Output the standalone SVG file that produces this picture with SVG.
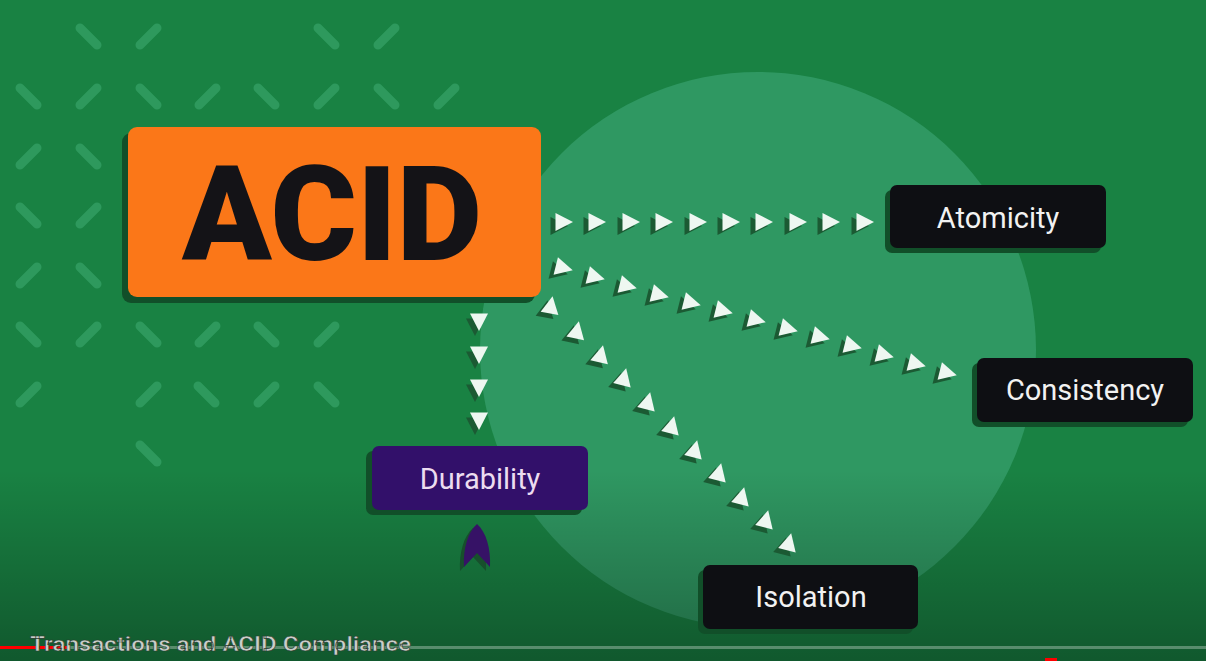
<svg xmlns="http://www.w3.org/2000/svg" xmlns:xlink="http://www.w3.org/1999/xlink" width="1206" height="661" viewBox="0 0 1206 661">
<defs>
<style>
.dash{stroke:#2e995d;stroke-width:9;stroke-linecap:round;fill:none}
.bshadow{fill:#114f29}
.dark{fill:#0e0f13}
.lbl{font-family:Roboto,"Liberation Sans",sans-serif;font-size:29px;fill:#f2f2f2;text-anchor:middle}
.tw{fill:#eef7f1}
.ts{fill:#1b5a33}
</style>
<linearGradient id="shade" x1="0" y1="0" x2="0" y2="1">
<stop offset="0" stop-color="#000" stop-opacity="0"/>
<stop offset="1" stop-color="#000" stop-opacity="0.32"/>
</linearGradient>
<polygon id="tri" points="-8.5,-9 9,0 -8.5,9"/>
</defs>
<rect width="1206" height="661" fill="#198243"/>
<circle cx="758" cy="350" r="278" fill="#2f9862"/>
<rect x="0" y="470" width="1206" height="191" fill="url(#shade)"/>
<g id="pattern">
<path class="dash" d="M80,28l17,17M157,28l-17,17M318,28l17,17M395,28l-17,17"/>
<path class="dash" d="M20,88l17,17M97,88l-17,17M140,88l17,17M216,88l-17,17M258,88l17,17M335,88l-17,17M378,88l17,17M455,88l-17,17"/>
<path class="dash" d="M37,148l-17,17M80,148l17,17"/>
<path class="dash" d="M20,207l17,17M97,207l-17,17"/>
<path class="dash" d="M37,267l-17,17M80,267l17,17"/>
<path class="dash" d="M20,326l17,17M97,326l-17,17M140,326l17,17M216,326l-17,17M258,326l17,17M335,326l-17,17"/>
<path class="dash" d="M37,386l-17,17M157,386l-17,17M198,386l17,17M275,386l-17,17M318,386l17,17"/>
<path class="dash" d="M140,445l17,17"/>
</g>
<g id="connectors">
<g id="to-atomicity">
<use xlink:href="#tri" class="ts" transform="translate(559,226)"/><use xlink:href="#tri" class="tw" transform="translate(564,222)"/>
<use xlink:href="#tri" class="ts" transform="translate(592,226)"/><use xlink:href="#tri" class="tw" transform="translate(597,222)"/>
<use xlink:href="#tri" class="ts" transform="translate(626,226)"/><use xlink:href="#tri" class="tw" transform="translate(631,222)"/>
<use xlink:href="#tri" class="ts" transform="translate(659,226)"/><use xlink:href="#tri" class="tw" transform="translate(664,222)"/>
<use xlink:href="#tri" class="ts" transform="translate(693,226)"/><use xlink:href="#tri" class="tw" transform="translate(698,222)"/>
<use xlink:href="#tri" class="ts" transform="translate(726,226)"/><use xlink:href="#tri" class="tw" transform="translate(731,222)"/>
<use xlink:href="#tri" class="ts" transform="translate(759,226)"/><use xlink:href="#tri" class="tw" transform="translate(764,222)"/>
<use xlink:href="#tri" class="ts" transform="translate(793,226)"/><use xlink:href="#tri" class="tw" transform="translate(798,222)"/>
<use xlink:href="#tri" class="ts" transform="translate(826,226)"/><use xlink:href="#tri" class="tw" transform="translate(831,222)"/>
<use xlink:href="#tri" class="ts" transform="translate(860,226)"/><use xlink:href="#tri" class="tw" transform="translate(865,222)"/>
</g>
<g id="to-consistency">
<use xlink:href="#tri" class="ts" transform="translate(559,272) rotate(14)"/><use xlink:href="#tri" class="tw" transform="translate(564,268) rotate(14)"/>
<use xlink:href="#tri" class="ts" transform="translate(591,281) rotate(14)"/><use xlink:href="#tri" class="tw" transform="translate(596,277) rotate(14)"/>
<use xlink:href="#tri" class="ts" transform="translate(623,290) rotate(14)"/><use xlink:href="#tri" class="tw" transform="translate(628,286) rotate(14)"/>
<use xlink:href="#tri" class="ts" transform="translate(655,299) rotate(14)"/><use xlink:href="#tri" class="tw" transform="translate(660,295) rotate(14)"/>
<use xlink:href="#tri" class="ts" transform="translate(687,307) rotate(14)"/><use xlink:href="#tri" class="tw" transform="translate(692,303) rotate(14)"/>
<use xlink:href="#tri" class="ts" transform="translate(719,315) rotate(14)"/><use xlink:href="#tri" class="tw" transform="translate(724,311) rotate(14)"/>
<use xlink:href="#tri" class="ts" transform="translate(752,324) rotate(14)"/><use xlink:href="#tri" class="tw" transform="translate(757,320) rotate(14)"/>
<use xlink:href="#tri" class="ts" transform="translate(784,333) rotate(14)"/><use xlink:href="#tri" class="tw" transform="translate(789,329) rotate(14)"/>
<use xlink:href="#tri" class="ts" transform="translate(816,341) rotate(14)"/><use xlink:href="#tri" class="tw" transform="translate(821,337) rotate(14)"/>
<use xlink:href="#tri" class="ts" transform="translate(848,350) rotate(14)"/><use xlink:href="#tri" class="tw" transform="translate(853,346) rotate(14)"/>
<use xlink:href="#tri" class="ts" transform="translate(880,359) rotate(14)"/><use xlink:href="#tri" class="tw" transform="translate(885,355) rotate(14)"/>
<use xlink:href="#tri" class="ts" transform="translate(912,368) rotate(14)"/><use xlink:href="#tri" class="tw" transform="translate(917,364) rotate(14)"/>
<use xlink:href="#tri" class="ts" transform="translate(943,377) rotate(14)"/><use xlink:href="#tri" class="tw" transform="translate(948,373) rotate(14)"/>
</g>
<g id="to-isolation">
<use xlink:href="#tri" class="ts" transform="translate(546,309) rotate(-80)"/><use xlink:href="#tri" class="tw" transform="translate(551,305) rotate(-80)"/>
<use xlink:href="#tri" class="ts" transform="translate(572,334) rotate(-78)"/><use xlink:href="#tri" class="tw" transform="translate(577,330) rotate(-78)"/>
<use xlink:href="#tri" class="ts" transform="translate(596,358) rotate(-77)"/><use xlink:href="#tri" class="tw" transform="translate(601,354) rotate(-77)"/>
<use xlink:href="#tri" class="ts" transform="translate(619,381) rotate(-76)"/><use xlink:href="#tri" class="tw" transform="translate(624,377) rotate(-76)"/>
<use xlink:href="#tri" class="ts" transform="translate(643,405) rotate(-76)"/><use xlink:href="#tri" class="tw" transform="translate(648,401) rotate(-76)"/>
<use xlink:href="#tri" class="ts" transform="translate(667,429) rotate(-76)"/><use xlink:href="#tri" class="tw" transform="translate(672,425) rotate(-76)"/>
<use xlink:href="#tri" class="ts" transform="translate(690,453) rotate(-76)"/><use xlink:href="#tri" class="tw" transform="translate(695,449) rotate(-76)"/>
<use xlink:href="#tri" class="ts" transform="translate(714,476) rotate(-76)"/><use xlink:href="#tri" class="tw" transform="translate(719,472) rotate(-76)"/>
<use xlink:href="#tri" class="ts" transform="translate(737,500) rotate(-76)"/><use xlink:href="#tri" class="tw" transform="translate(742,496) rotate(-76)"/>
<use xlink:href="#tri" class="ts" transform="translate(761,523) rotate(-76)"/><use xlink:href="#tri" class="tw" transform="translate(766,519) rotate(-76)"/>
<use xlink:href="#tri" class="ts" transform="translate(784,546) rotate(-76)"/><use xlink:href="#tri" class="tw" transform="translate(789,542) rotate(-76)"/>
</g>
<g id="to-durability">
<use xlink:href="#tri" class="ts" transform="translate(475,327) rotate(90)"/><use xlink:href="#tri" class="tw" transform="translate(479,322) rotate(90)"/>
<use xlink:href="#tri" class="ts" transform="translate(475,360) rotate(90)"/><use xlink:href="#tri" class="tw" transform="translate(479,355) rotate(90)"/>
<use xlink:href="#tri" class="ts" transform="translate(475,393) rotate(90)"/><use xlink:href="#tri" class="tw" transform="translate(479,388) rotate(90)"/>
<use xlink:href="#tri" class="ts" transform="translate(475,426) rotate(90)"/><use xlink:href="#tri" class="tw" transform="translate(479,421) rotate(90)"/>
</g>
<g id="durability-arrowhead">
<path transform="translate(-4,4)" fill="#174f2c" d="M477,524 C468,532 463,548 464,567 L477,553 L490,567 C491,548 486,532 477,524 Z"/>
<path fill="#361266" d="M477,524 C468,532 463,548 464,567 L477,553 L490,567 C491,548 486,532 477,524 Z"/>
</g>
</g>
<g id="acid">
<rect class="bshadow" x="122" y="133" width="413" height="170" rx="9"/>
<rect x="128" y="127" width="413" height="170" rx="9" fill="#fb7718"/>
<text x="182" y="260" font-family="Roboto,'Liberation Sans',sans-serif" font-weight="900" font-size="132" fill="#141317" textLength="300" lengthAdjust="spacingAndGlyphs">ACID</text>
</g>
<g id="atomicity">
<rect class="bshadow" x="885" y="190" width="216" height="63" rx="7"/>
<rect class="dark" x="890" y="185" width="216" height="63" rx="7"/>
<text class="lbl" x="998" y="228">Atomicity</text>
</g>
<g id="consistency">
<rect class="bshadow" x="972" y="363" width="216" height="64" rx="7"/>
<rect class="dark" x="977" y="358" width="216" height="64" rx="7"/>
<text class="lbl" x="1085" y="400">Consistency</text>
</g>
<g id="durability">
<rect class="bshadow" x="366" y="451" width="216" height="64" rx="7"/>
<rect x="372" y="446" width="216" height="64" rx="7" fill="#32106a"/>
<text class="lbl" x="480" y="489" style="fill:#ecdcf0">Durability</text>
</g>
<g id="isolation">
<rect class="bshadow" x="698" y="570" width="215" height="64" rx="7"/>
<rect class="dark" x="703" y="565" width="215" height="64" rx="7"/>
<text class="lbl" x="811" y="607">Isolation</text>
</g>
<g id="player-bar">
<rect x="0" y="646" width="1206" height="3" fill="#ffffff" fill-opacity="0.3"/>
<rect x="0" y="646" width="70" height="3" fill="#ff0000"/>
<rect x="1045" y="658" width="12" height="3" fill="#ff0000"/>
<text x="30" y="651" font-family="Roboto,'Liberation Sans',sans-serif" font-weight="bold" font-size="21" fill="#c9cfc9" stroke="#2a3a2e" stroke-width="0.6" textLength="381" lengthAdjust="spacingAndGlyphs">Transactions and ACID Compliance</text>
</g>
</svg>
